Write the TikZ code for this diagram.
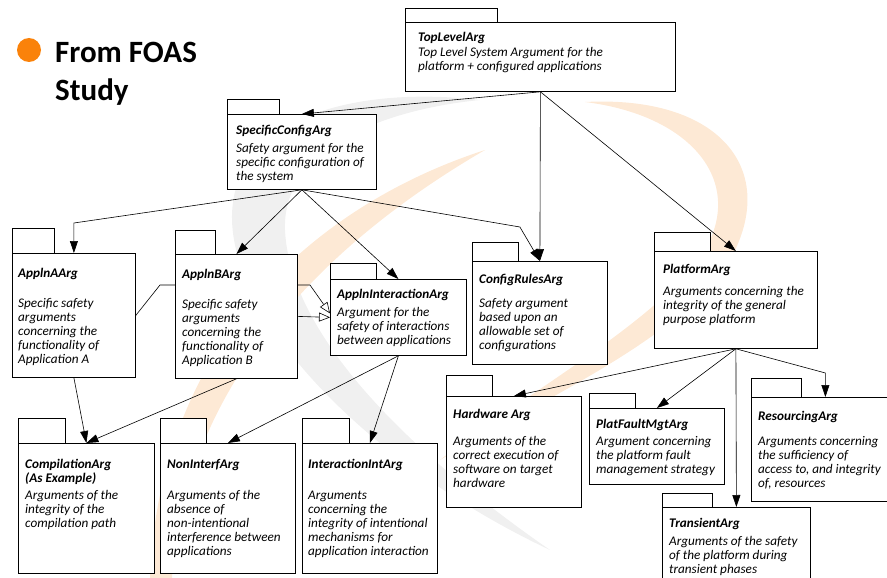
\documentclass[tikz,border=0pt]{standalone}
\usepackage{fontspec}
\setmainfont{Carlito}
\usetikzlibrary{arrows.meta,backgrounds}

\definecolor{foasorange}{RGB}{250,130,10}
\definecolor{swooshgray}{RGB}{240,240,240}
\definecolor{swooshpeach}{RGB}{253,233,213}

\begin{document}
\begin{tikzpicture}[x=1pt,y=-1pt,
        pkg/.style={draw, fill=white, line width=0.8pt, anchor=north west, inner sep=0pt},
        pkgtab/.style={draw, fill=white, line width=0.8pt},
        pkgtxt/.style={anchor=north west, align=left, inner sep=0pt, font=\fontsize{13.2}{14}\selectfont\itshape},
        link/.style={line width=0.6pt, -{Triangle[length=12pt,width=8pt]}},
        realise/.style={line width=0.6pt, -{Triangle[open,length=11pt,width=9pt,fill=white]}}]

        \useasboundingbox (0,0) rectangle (887,578);

        % heading
        \node[circle, fill=foasorange, minimum size=24pt, inner sep=0pt] (dot) at (29,50) {};
        \node[anchor=north west, align=left, inner sep=0pt, font=\fontsize{31}{38}\selectfont\bfseries] (foas) at (55,35.4) {\strut From FOAS\\Study};

        % packages
        \node[pkg, minimum width=270, minimum height=69] (toplvl) at (405,22) {};
        \node[pkg, minimum width=149, minimum height=75] (speccfg) at (227,114) {};
        \node[pkg, minimum width=123, minimum height=124] (appla) at (12,253) {};
        \node[pkg, minimum width=122, minimum height=124] (applb) at (175,254) {};
        \node[pkg, minimum width=136, minimum height=76] (applint) at (330,279) {};
        \node[pkg, minimum width=135, minimum height=103] (cfgrules) at (472,261) {};
        \node[pkg, minimum width=163, minimum height=97] (platform) at (654,251) {};
        \node[pkg, minimum width=136, minimum height=130] (compile) at (18,443) {};
        \node[pkg, minimum width=135, minimum height=130] (noninterf) at (160,443) {};
        \node[pkg, minimum width=135, minimum height=130] (interint) at (302,443) {};
        \node[pkg, minimum width=135, minimum height=111] (hardware) at (446,396) {};
        \node[pkg, minimum width=135, minimum height=76] (platfault) at (589,408) {};
        \node[pkg, minimum width=148, minimum height=104] (resourcing) at (751,397) {};
        \node[pkg, minimum width=148, minimum height=90] (transient) at (662,507) {};

        % package tabs
        \foreach \n/\w/\h in {toplvl/92/14, speccfg/52/15, appla/42/25, applb/40/24,
            applint/46/16, cfgrules/46/19, platform/56/19, compile/47/25,
            noninterf/46/25, interint/47/25, hardware/46/21, platfault/46/15,
            resourcing/50/19, transient/50/14}
            \draw[pkgtab] (\n.north west) rectangle ++(\w,-\h);

        % package texts
        \node[pkgtxt] (toplvl-t) at (418,32) {\strut\textbf{TopLevelArg}\\[1pt]Top Level System Argument for the\\platform + configured applications};
        \node[pkgtxt] (speccfg-t) at (236,124) {\strut\textbf{SpecificConfigArg}\\[4pt]Safety argument for the\\specific configuration of\\the system};
        \node[pkgtxt] (appla-t) at (18,267) {\strut\textbf{ApplnAArg}\\[16pt]Specific safety\\arguments\\concerning the\\functionality of\\Application A};
        \node[pkgtxt] (applb-t) at (182,268) {\strut\textbf{ApplnBArg}\\[16pt]Specific safety\\arguments\\concerning the\\functionality of\\Application B};
        \node[pkgtxt] (applint-t) at (337,288) {\strut\textbf{ApplnInteractionArg}\\[4pt]Argument for the\\safety of interactions\\between applications};
        \node[pkgtxt] (cfgrules-t) at (479,273) {\strut\textbf{ConfigRulesArg}\\[10pt]Safety argument\\based upon an\\allowable set of\\configurations};
        \node[pkgtxt] (platform-t) at (663,263) {\strut\textbf{PlatformArg}\\[8pt]Arguments concerning the\\integrity of the general\\purpose platform};
        \node[pkgtxt] (compile-t) at (25,458) {\strut\textbf{CompilationArg}\\\textbf{(As Example)}\\[3pt]Arguments of the\\integrity of the\\compilation path};
        \node[pkgtxt] (noninterf-t) at (167,458) {\strut\textbf{NonInterfArg}\\[17pt]Arguments of the\\absence of\\non-intentional\\interference between\\applications};
        \node[pkgtxt] (interint-t) at (308,458) {\strut\textbf{InteractionIntArg}\\[17pt]Arguments\\concerning the\\integrity of intentional\\mechanisms for\\application interaction};
        \node[pkgtxt] (hardware-t) at (453,408) {\strut\textbf{Hardware Arg}\\[13pt]Arguments of the\\correct execution of\\software on target\\hardware};
        \node[pkgtxt] (platfault-t) at (596,418) {\strut\textbf{PlatFaultMgtArg}\\[3pt]Argument concerning\\the platform fault\\management strategy};
        \node[pkgtxt] (resourcing-t) at (758,410) {\strut\textbf{ResourcingArg}\\[11pt]Arguments concerning\\the sufficiency of\\access to, and integrity\\of, resources};
        \node[pkgtxt] (transient-t) at (669,517) {\strut\textbf{TransientArg}\\[4pt]Arguments of the safety\\of the platform during\\transient phases};

        % bends
        \coordinate (abend) at ([yshift=30pt]appla.north);
        \coordinate (cbend) at ([xshift=-20pt,yshift=34pt]cfgrules.north);
        \coordinate (rbend) at ([yshift=24pt]resourcing.north);
        \coordinate (ibend1) at (160,285);
        \coordinate (ibend2) at (310,285);

        % connectors
        \draw[link] (toplvl.south) -- (speccfg.north);
        \draw[link] (toplvl.south) -- (cfgrules.north);
        \draw[link] (toplvl.south) -- (platform.north);
        \draw[link] (speccfg.south) -- (abend) -- (appla.north);
        \draw[link] (speccfg.south) -- (applb.north);
        \draw[link] (speccfg.south) -- (applint.north);
        \draw[link] (speccfg.south) -- (cbend) -- (cfgrules.north);
        \draw[link] (appla.south) -- (compile.north);
        \draw[link] (applb.south) -- (compile.north);
        \draw[link] (applint.south) -- (noninterf.north);
        \draw[link] (applint.south) -- (interint.north);
        \draw[link] (platform.south) -- (hardware.north);
        \draw[link] (platform.south) -- (platfault.north);
        \draw[link] (platform.south) -- (transient.north);
        \draw[link] (platform.south) -- (rbend) -- (resourcing.north);
        \draw[realise] (applb.east) -- (applint.west);

        \begin{scope}[on background layer]
            % watermark
            \fill[swooshgray] (480,100) .. controls (350,85) and (230,120) .. (232,220)
                .. controls (235,330) and (380,470) .. (550,550)
                .. controls (420,460) and (290,340) .. (285,230)
                .. controls (282,150) and (380,110) .. (480,100) -- cycle;
            \fill[swooshpeach] (485,150) .. controls (330,200) and (160,330) .. (150,578)
                -- (172,578) .. controls (185,380) and (330,240) .. (485,150) -- cycle;
            \fill[swooshpeach] (585,102) .. controls (720,95) and (780,170) .. (730,260)
                .. controls (680,340) and (540,400) .. (440,460)
                .. controls (530,390) and (660,320) .. (705,250)
                .. controls (745,180) and (690,115) .. (585,102) -- cycle;
            % link routed behind ApplnBArg
            \draw[realise] (appla.east) -- (ibend1) -- (ibend2) -- ([yshift=4pt]applint.west);
        \end{scope}
    \end{tikzpicture}
\end{document}
